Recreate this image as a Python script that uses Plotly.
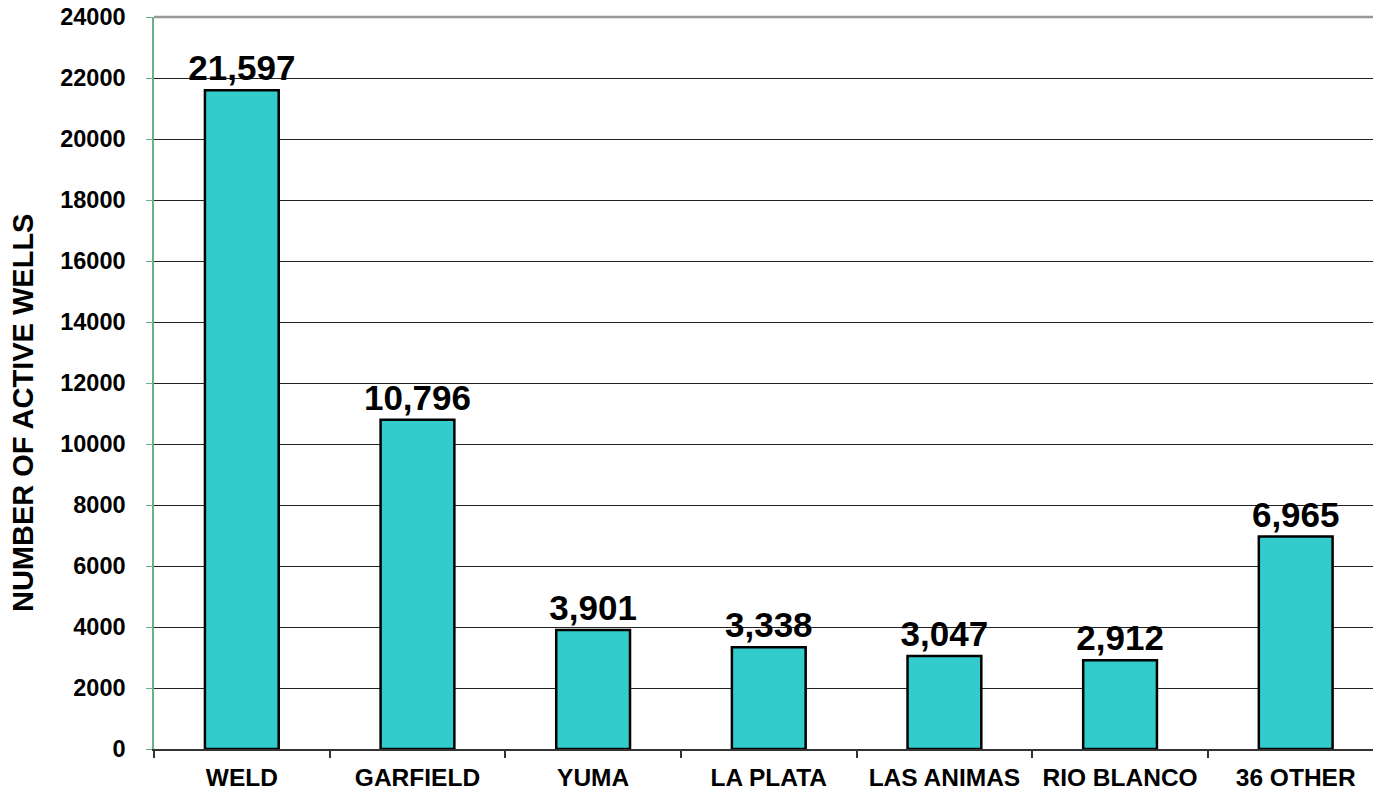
import plotly.graph_objects as go

categories = ["WELD", "GARFIELD", "YUMA", "LA PLATA", "LAS ANIMAS", "RIO BLANCO", "36 OTHER"]
wells = [21597, 10796, 3901, 3338, 3047, 2912, 6965]
y_ticks = list(range(0, 24001, 2000))

fig = go.Figure(go.Bar(
    x=categories, y=wells,
    marker=dict(color="#33CCCC", line=dict(color="black", width=2.5)),
    width=0.42,
    text=[f"{v:,}" for v in wells],
    textposition="outside",
    constraintext="none",
    cliponaxis=False,
    textfont=dict(family="Liberation Sans, Arial", size=35, color="black", weight="bold"),
))

fig.update_layout(
    width=1373, height=794,
    margin=dict(l=154, r=0, t=17, b=45),
    paper_bgcolor="white", plot_bgcolor="white",
    showlegend=False,
    font=dict(family="Liberation Sans, Arial", color="black"),
    xaxis=dict(
        type="category", tickson="boundaries", ticks="outside", ticklen=7,
        tickcolor="#333333", tickwidth=1.5,
        showline=True, linecolor="#333333", linewidth=2,
        showgrid=False, automargin=False,
        tickfont=dict(size=24.5, weight="bold", color="black"),
        ticklabelstandoff=6,
        range=[-0.5, 6.44],
    ),
    yaxis=dict(
        range=[0, 24000], tickvals=y_ticks,
        ticktext=[str(v) for v in y_ticks],
        showline=True, linecolor="#66B08A", linewidth=1.5,
        ticks="outside", ticklen=6, tickcolor="#66B08A",
        showgrid=True, gridcolor="#222222", gridwidth=1.3,
        zeroline=False, automargin=False,
        ticklabeloverflow="allow",
        tickfont=dict(size=23.5, weight="bold", color="black"),
        ticklabelstandoff=16,
    ),
    annotations=[dict(
        text="NUMBER OF ACTIVE WELLS", textangle=-90,
        xref="paper", yref="paper", x=0, y=0.459, xanchor="center", yanchor="middle",
        xshift=-131, showarrow=False,
        font=dict(size=29, weight="bold", color="black"),
    )],
    shapes=[dict(type="line", xref="paper", yref="paper", x0=0, x1=1, y0=1, y1=1,
                 line=dict(color="#999999", width=2.5))],
    bargap=0.58,
)

fig.write_html("out.html", config={"displayModeBar": False},
               post_script="document.body.style.margin='0';document.body.style.overflow='hidden';")
